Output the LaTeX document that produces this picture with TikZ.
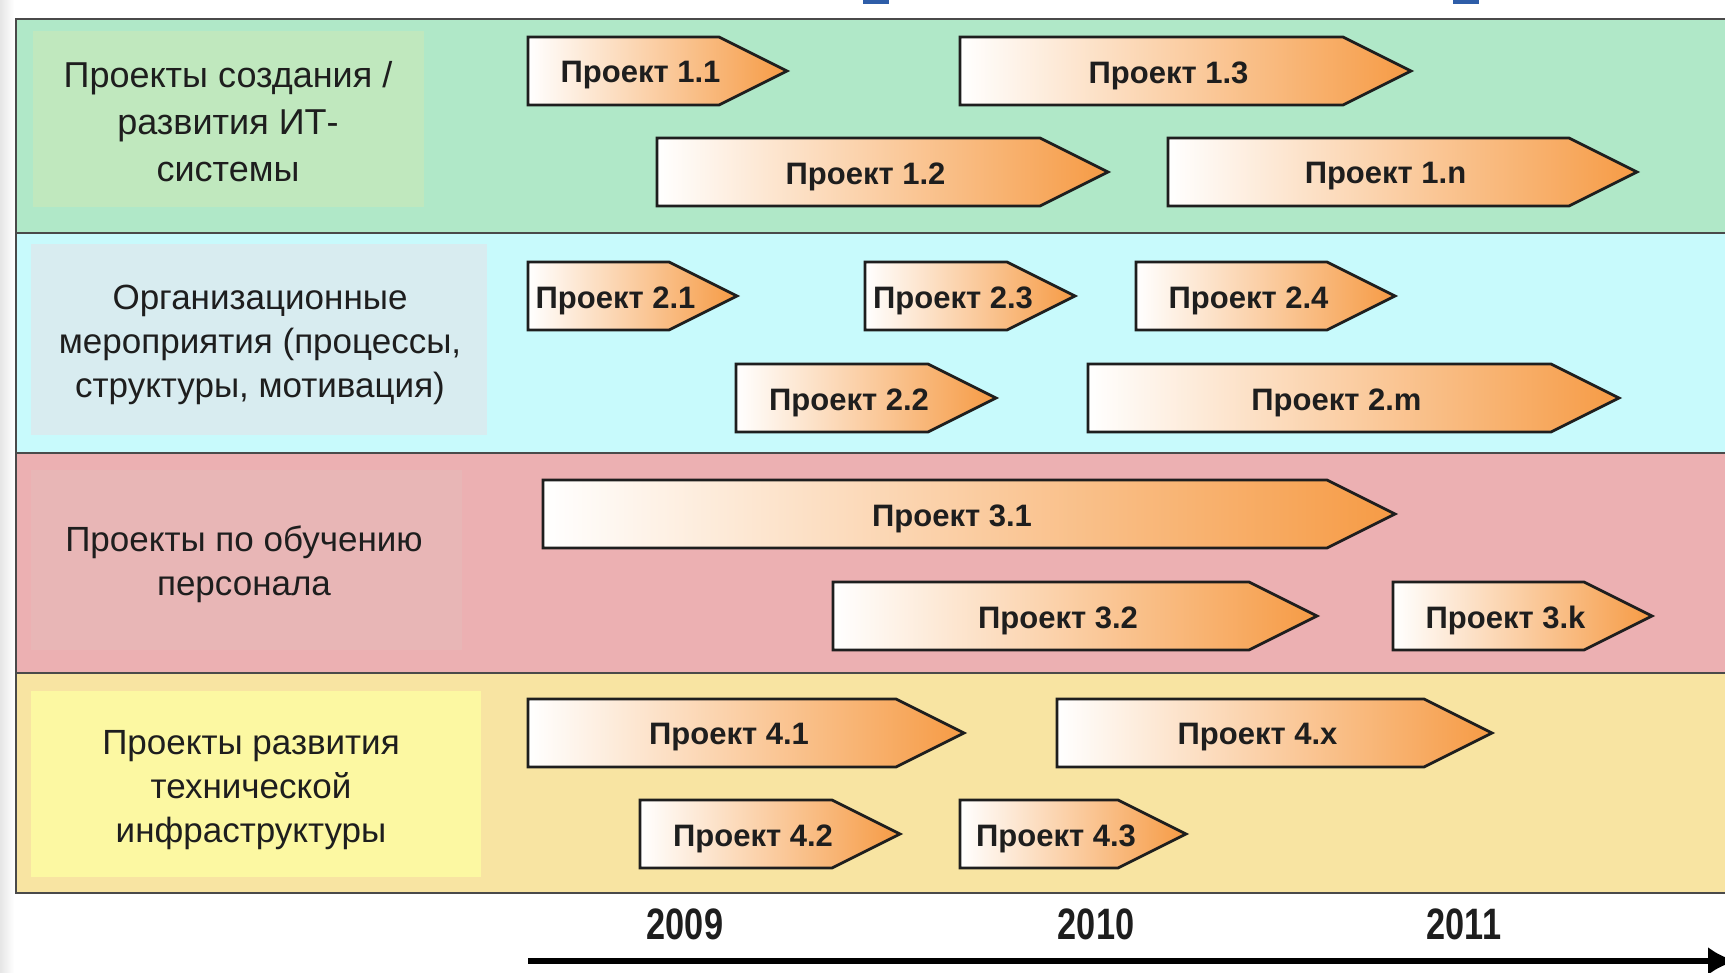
\documentclass[tikz,border=0pt]{standalone}
\usepackage{fontspec}
\setmainfont{Liberation Sans}
\newfontfamily\yearfont[FakeStretch=0.78]{Liberation Sans}
\usetikzlibrary{arrows.meta}
\definecolor{rowA}{HTML}{B0E8C8}
\definecolor{labA}{HTML}{C0E8BE}
\definecolor{rowB}{HTML}{C8FAFC}
\definecolor{labB}{HTML}{D8ECF0}
\definecolor{rowC}{HTML}{ECB0B2}
\definecolor{labC}{HTML}{E8B6B6}
\definecolor{rowD}{HTML}{F8E4A2}
\definecolor{labD}{HTML}{FCF8A2}
\definecolor{projorange}{HTML}{F69B45}
\definecolor{framegray}{HTML}{4A4A4A}
\definecolor{txt}{HTML}{1E1E1E}
\definecolor{topblue}{HTML}{2E5DA8}
\tikzset{
  projshape/.style={draw=txt, line width=1.4pt, line join=miter, left color=white, right color=projorange},
  projtext/.style={font=\bfseries\fontsize{15.5}{18}\selectfont, text=txt, inner sep=0pt},
  rowlabel/.style={font=\fontsize{17.5}{22}\selectfont, text=txt, align=center, inner sep=0pt},
  yearlabel/.style={font=\yearfont\bfseries\fontsize{22}{26}\selectfont, text=txt, inner sep=0pt},
  divider/.style={draw=framegray, line width=1.1pt},
  timeline/.style={line width=3pt, -{Latex[length=14pt,width=14pt]}}
}
\newcommand\proj[5]{%
  \path[projshape] (#2,#4-34) -- (#3-68,#4-34) -- (#3,#4) -- (#3-68,#4+34) -- (#2,#4+34) -- cycle;
  \node[projtext] (#1) at ({(#2+#3-34)/2},#4+4.5) {#5};}
\begin{document}
\begin{tikzpicture}[x=0.5pt,y=-0.5pt]
\useasboundingbox (0,0) rectangle (1725,973);
% page background
\fill[white] (0,0) rectangle (1725,973);
\fill[left color=black!10, right color=white] (0,0) rectangle (14,973);
\fill[topblue] (863,0) rectangle (889,4);
\fill[topblue] (1453,0) rectangle (1479,4);
% rows
\fill[rowA] (16,19) rectangle (1730,233);
\fill[rowB] (16,233) rectangle (1730,453);
\fill[rowC] (16,453) rectangle (1730,673);
\fill[rowD] (16,673) rectangle (1730,893);
% label boxes
\fill[labA] (33,31) rectangle (424,207);
\fill[labB] (31,244) rectangle (487,435);
\fill[labC] (31,470) rectangle (462,650);
\fill[labD] (31,691) rectangle (481,877);
\node[rowlabel, font=\fontsize{18}{23.5}\selectfont] (lab1) at (228,122) {Проекты создания /\\развития ИТ-\\системы};
\node[rowlabel] (lab2) at (260,345) {Организационные\\мероприятия (процессы,\\структуры, мотивация)};
\node[rowlabel] (lab3) at (244,564) {Проекты по обучению\\персонала};
\node[rowlabel] (lab4) at (251,790) {Проекты развития\\технической\\инфраструктуры};
% frame and dividers
\draw[divider] (1730,19) -- (16,19) -- (16,893) -- (1730,893);
\draw[divider] (16,233) -- (1730,233);
\draw[divider] (16,453) -- (1730,453);
\draw[divider] (16,673) -- (1730,673);
% projects
\proj{p11}{528}{787}{71}{Проект 1.1}
\proj{p13}{960}{1411}{71}{Проект 1.3}
\proj{p12}{657}{1108}{172}{Проект 1.2}
\proj{p1n}{1168}{1637}{172}{Проект 1.n}
\proj{p21}{528}{737}{296}{Проект 2.1}
\proj{p23}{865}{1075}{296}{Проект 2.3}
\proj{p24}{1136}{1395}{296}{Проект 2.4}
\proj{p22}{736}{996}{398}{Проект 2.2}
\proj{p2m}{1088}{1619}{398}{Проект 2.m}
\proj{p31}{543}{1395}{514}{Проект 3.1}
\proj{p32}{833}{1317}{616}{Проект 3.2}
\proj{p3k}{1393}{1652}{616}{Проект 3.k}
\proj{p41}{528}{964}{733}{Проект 4.1}
\proj{p4x}{1057}{1492}{733}{Проект 4.x}
\proj{p42}{640}{900}{834}{Проект 4.2}
\proj{p43}{960}{1186}{834}{Проект 4.3}
% years and timeline
\node[yearlabel] (y2009) at (685,924) {2009};
\node[yearlabel] (y2010) at (1096,924) {2010};
\node[yearlabel] (y2011) at (1464,924) {2011};
\coordinate (tl0) at (528,961);
\coordinate (tl1) at (1736,961);
\draw[timeline] (tl0) -- (tl1);
\end{tikzpicture}
\end{document}
